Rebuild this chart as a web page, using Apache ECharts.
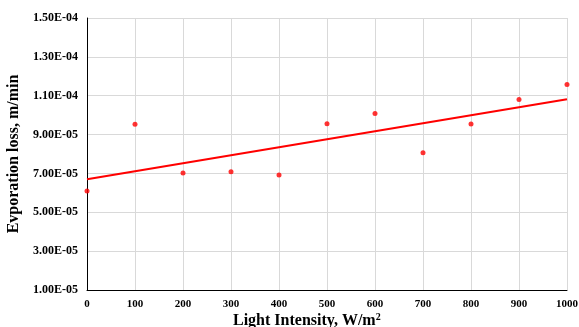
<!DOCTYPE html>
<html><head><meta charset="utf-8">
<script src="https://cdn.jsdelivr.net/npm/echarts@6/dist/echarts.min.js"></script>
<style>html,body{margin:0;padding:0;background:#fff}#c{width:579px;height:327px}</style>
</head><body><div id="c"></div>
<script>
var intensity = [0, 100, 200, 300, 400, 500, 600, 700, 800, 900, 1000];
var evapLoss = [6.10e-5, 9.53e-5, 7.02e-5, 7.09e-5, 6.92e-5, 9.56e-5, 1.009e-4, 8.07e-5, 9.55e-5, 1.081e-4, 1.158e-4];
var yTicks = [1.0e-5, 3.0e-5, 5.0e-5, 7.0e-5, 9.0e-5, 1.1e-4, 1.3e-4, 1.5e-4];

// linear trendline (least squares) from the data
var n = intensity.length, sx = 0, sy = 0, sxx = 0, sxy = 0;
for (var i = 0; i < n; i++) { sx += intensity[i]; sy += evapLoss[i]; sxx += intensity[i]*intensity[i]; sxy += intensity[i]*evapLoss[i]; }
var slope = (n*sxy - sx*sy) / (n*sxx - sx*sx);
var icpt = (sy - slope*sx) / n;
var trend = [[0, icpt], [1000, icpt + slope*1000]];

function fmt(v) {
  var s = v.toExponential(2).toUpperCase();
  return s.replace(/E([+-])(\d)$/, 'E$10$2');
}
var serif = '"Liberation Serif", "Times New Roman", serif';
var chart = echarts.init(document.getElementById('c'));
chart.setOption({
  animation: false,
  textStyle: { fontFamily: serif },
  grid: { left: 87, right: 12, top: 18, bottom: 37, containLabel: false, outerBoundsMode: 'none' },
  title: {
    text: 'Light Intensity, W/m{sup|2}',
    left: 228, top: 307,
    textStyle: { fontFamily: serif, fontSize: 16, fontWeight: 'bold', color: '#000',
      rich: { sup: { fontFamily: serif, fontSize: 10, fontWeight: 'bold', color: '#000', verticalAlign: 'top', padding: [0,0,8,0] } } }
  },
  xAxis: {
    type: 'value', min: 0, max: 1000, interval: 100,
    axisLine: { show: true, onZero: false, lineStyle: { color: '#000', width: 1 } },
    axisTick: { show: false },
    axisLabel: { fontFamily: serif, fontSize: 11, fontWeight: 'bold', color: '#000', margin: 9, formatter: function(v){ return String(v); } },
    splitLine: { show: true, lineStyle: { color: '#d9d9d9', width: 1 } }
  },
  yAxis: {
    type: 'value', min: yTicks[0], max: yTicks[yTicks.length-1], interval: 2e-5,
    name: 'Evporation loss, m/min', nameLocation: 'middle', nameGap: 58,
    nameTextStyle: { fontFamily: serif, fontSize: 16, fontWeight: 'bold', color: '#000' },
    axisLine: { show: true, onZero: false, lineStyle: { color: '#000', width: 1 } },
    axisTick: { show: false },
    axisLabel: { fontFamily: serif, fontSize: 12, fontWeight: 'bold', color: '#000', margin: 9, formatter: fmt },
    splitLine: { show: true, lineStyle: { color: '#d9d9d9', width: 1 } }
  },
  series: [
    { type: 'line', data: trend, symbol: 'none', lineStyle: { color: '#ff0000', width: 2 }, z: 2 },
    { type: 'scatter', data: intensity.map(function(x, i){ return [x, evapLoss[i]]; }),
      symbolSize: 5, itemStyle: { color: '#ff0000' }, z: 3 }
  ]
});
</script></body></html>
